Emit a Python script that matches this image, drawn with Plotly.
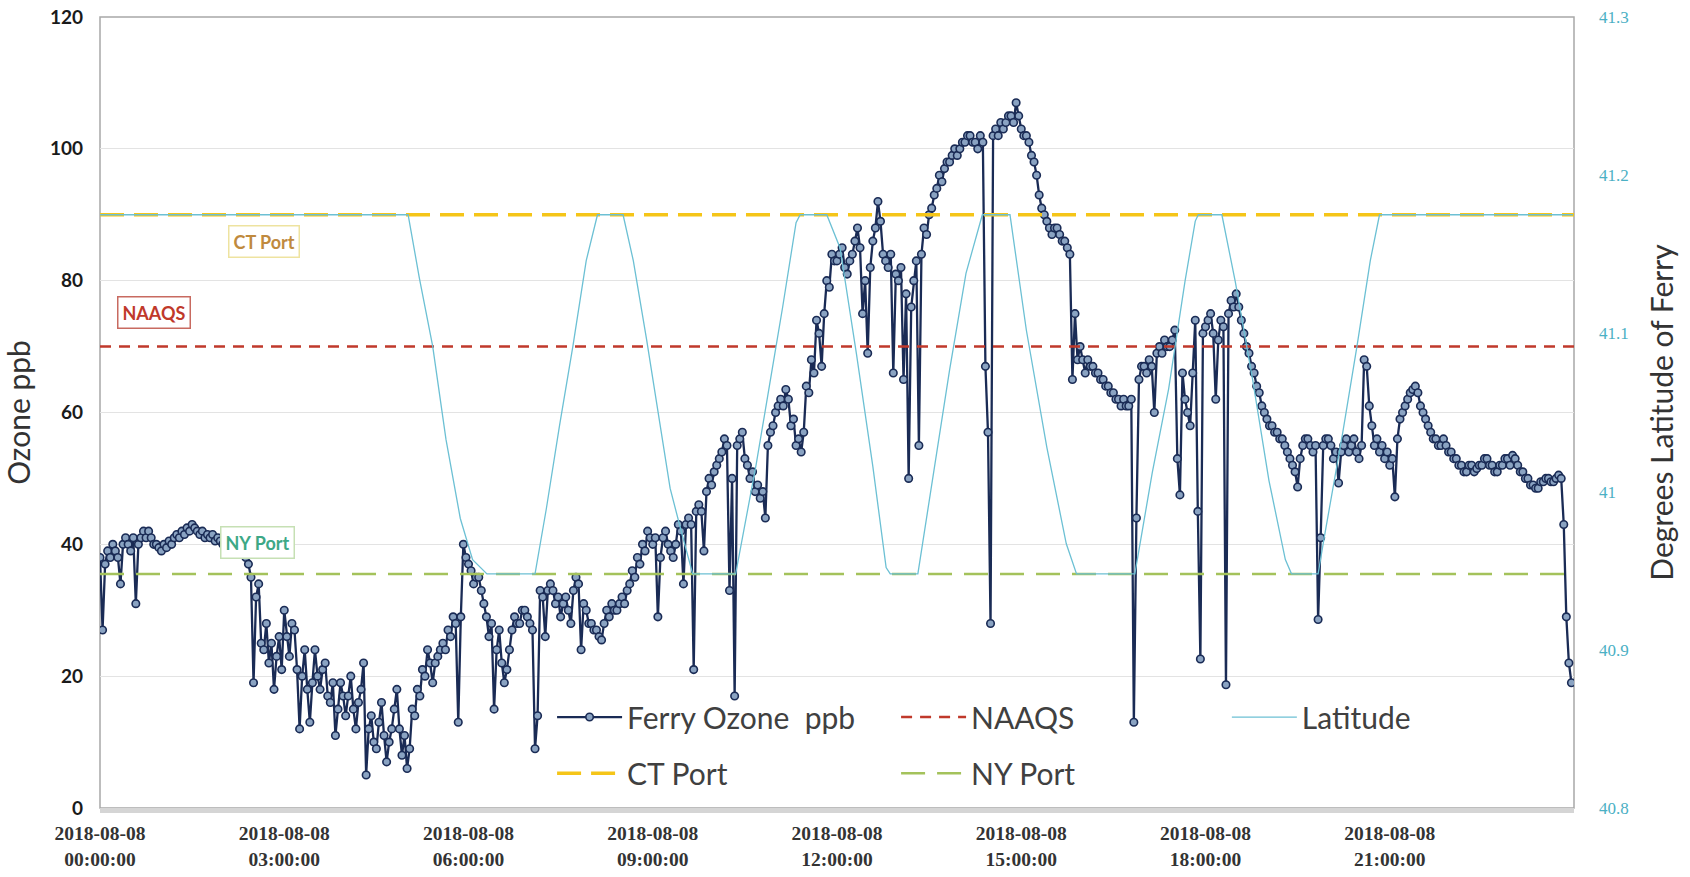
import pandas as pd
import plotly.graph_objects as go

# ---------------- data (one value every 2.5 minutes, 24 per hour) ----------------
day = "2018-08-08"
ozone_h00 = [38, 27, 37, 39, 38, 40, 39, 38, 34, 40, 41, 40, 39, 41, 31, 40, 41, 42, 41, 42, 41, 40, 40, 39.5]
ozone_h01 = [39, 40, 39.5, 40.5, 40, 41, 41.5, 41, 42, 41.5, 42.5, 42, 43, 42.5, 42, 41.5, 42, 41, 41.5, 41, 41.5, 40.5, 41, 40.5]
ozone_h02 = [40, 40.5, 40, 39.5, 40, 39, 39.5, 39, 38.5, 38, 37, 35, 19, 32, 34, 25, 24, 28, 22, 25, 18, 23, 26, 21]
ozone_h03 = [30, 26, 23, 28, 27, 21, 12, 20, 24, 18, 13, 19, 24, 20, 18, 21, 22, 17, 16, 19, 11, 15, 19, 17]
ozone_h04 = [14, 17, 20, 15, 12, 16, 18, 22, 5, 12, 14, 10, 9, 13, 16, 11, 7, 10, 12, 15, 18, 12, 8, 11]
ozone_h05 = [6, 9, 15, 14, 18, 17, 21, 20, 24, 22, 19, 22, 23, 24, 25, 24, 27, 26, 29, 28, 13, 29, 40, 38]
ozone_h06 = [37, 36, 34, 35, 35, 33, 31, 29, 26, 28, 15, 24, 27, 22, 19, 21, 24, 27, 29, 28, 28, 30, 30, 29]
ozone_h07 = [28, 27, 9, 14, 33, 32, 26, 33, 34, 33, 31, 32, 29, 31, 32, 30, 28, 33, 35, 34, 24, 31, 30, 28]
ozone_h08 = [28, 27, 27, 26, 25.5, 28, 30, 29, 31, 30, 30, 31, 32, 31, 33, 34, 36, 35, 38, 37, 40, 39, 42, 41]
ozone_h09 = [40, 41, 29, 38, 41, 42, 40, 39, 38, 40, 43, 42, 34, 43, 44, 43, 21, 45, 46, 45, 39, 48, 50, 49]
ozone_h10 = [51, 52, 53, 54, 56, 55, 33, 50, 17, 55, 56, 57, 53, 52, 50, 51, 48, 49, 47, 48, 44, 55, 57, 58]
ozone_h11 = [60, 61, 62, 61, 63.5, 62, 58, 59, 55, 56, 54, 57, 64, 63, 68, 66, 74, 72, 67, 75, 80, 79, 84, 83]
ozone_h12 = [83, 84, 85, 82, 81, 83, 84, 86, 88, 85, 75, 80, 69, 82, 86, 88, 92, 89, 84, 83, 82, 84, 66, 81]
ozone_h13 = [80, 82, 65, 78, 50, 76, 80, 83, 55, 84, 88, 87, 90, 91, 93, 94, 96, 95, 97, 98, 98, 99, 100, 99]
ozone_h14 = [100, 101, 101, 102, 102, 101, 101, 100, 102, 101, 67, 57, 28, 102, 103, 102, 104, 103, 104, 105, 105, 104, 107, 105]
ozone_h15 = [103, 102, 102, 101, 99, 98, 96, 93, 91, 90, 89, 88, 87, 88, 88, 87, 86, 86, 85, 84, 65, 75, 68, 70]
ozone_h16 = [68, 66, 68, 67, 67, 66, 66, 65, 65, 64, 64, 63, 63, 62, 62, 61, 62, 61, 61, 62, 13, 44, 65, 67]
ozone_h17 = [67, 66, 68, 67, 60, 69, 70, 69, 71, 70, 70, 71, 72.5, 53, 47.5, 66, 62, 60, 58, 66, 74, 45, 22.6, 72]
ozone_h18 = [73, 74, 75, 72, 62, 71, 74, 73, 18.7, 75, 77, 76, 78, 76, 74, 72, 70, 69, 67, 66, 64, 63, 61, 60]
ozone_h19 = [59, 58, 58, 57, 57, 56, 56, 55, 54, 53, 52, 51, 48.7, 53, 55, 56, 56, 55, 54, 55, 28.6, 41, 55, 56]
ozone_h20 = [56, 55, 53, 54, 49.3, 54, 55, 56, 54, 55, 56, 54, 53, 55, 68, 67, 61, 58, 55, 56, 54, 55, 53, 54]
ozone_h21 = [52, 53, 47.2, 56, 59, 60, 61, 62, 63, 63.5, 64, 63, 61, 60, 59, 58, 57, 56, 56, 55, 55, 56, 55, 54]
ozone_h22 = [54, 53, 53, 52, 52, 51, 51, 52, 52, 51, 51.5, 52, 52, 53, 53, 52, 52, 51, 51, 52, 52, 53, 53, 52]
ozone_h23 = [53.5, 53, 52, 51, 51, 50, 50, 49, 49, 48.5, 48.5, 49.5, 49.5, 50, 50, 49.5, 49.5, 50, 50.5, 50, 43, 29, 22, 19]

ozone_ppb = (ozone_h00 + ozone_h01 + ozone_h02 + ozone_h03 + ozone_h04 + ozone_h05 +
             ozone_h06 + ozone_h07 + ozone_h08 + ozone_h09 + ozone_h10 + ozone_h11 +
             ozone_h12 + ozone_h13 + ozone_h14 + ozone_h15 + ozone_h16 + ozone_h17 +
             ozone_h18 + ozone_h19 + ozone_h20 + ozone_h21 + ozone_h22 + ozone_h23)
ozone_times = pd.date_range(day + " 00:00", periods=len(ozone_ppb), freq="150s")

lat_clock = [
    "00:00", "05:01", "05:12", "05:25", "05:38", "05:52", "06:04", "06:18",
    "07:05", "07:16", "07:29", "07:42", "07:55", "08:06", "08:31", "08:41",
    "08:54", "09:07", "09:17", "09:27", "09:39", "10:21", "10:41", "10:54",
    "11:07", "11:20", "11:24", "11:50", "12:03", "12:19", "12:35", "12:48",
    "12:52", "13:19", "13:34", "13:50", "14:06", "14:22", "14:49", "15:05",
    "15:25", "15:44", "15:54", "16:51", "17:08", "17:24", "17:40", "17:50",
    "17:53", "18:16", "18:29", "18:46", "19:02", "19:18", "19:24", "19:50",
    "19:56", "20:14", "20:28", "20:41", "20:50", "23:59",
]
latitude = [
    41.175, 41.175, 41.135, 41.092, 41.033, 40.983, 40.957, 40.948,
    40.948, 40.989, 41.042, 41.092, 41.146, 41.175, 41.175, 41.146,
    41.096, 41.042, 41.002, 40.977, 40.948, 40.948, 41.017, 41.067,
    41.117, 41.170, 41.175, 41.175, 41.154, 41.087, 41.016, 40.952,
    40.948, 40.948, 41.010, 41.077, 41.138, 41.175, 41.175, 41.102,
    41.028, 40.967, 40.948, 40.948, 41.012, 41.065, 41.133, 41.171,
    41.175, 41.175, 41.133, 41.071, 41.007, 40.957, 40.948, 40.948,
    40.971, 41.037, 41.092, 41.146, 41.175, 41.175,
]
lat_times = pd.to_datetime([day + " " + t for t in lat_clock])

naaqs_ppb = 70
ct_port_ppb = 90
ny_port_ppb = 35.5
span_times = [day + " 00:00", "2018-08-09 00:00"]

tick_hours = ["00:00:00", "03:00:00", "06:00:00", "09:00:00",
              "12:00:00", "15:00:00", "18:00:00", "21:00:00"]
tick_vals = [day + " " + h for h in tick_hours]
tick_text = [day + "<br>" + h for h in tick_hours]

label_ct = ("CT Port", day + " 02:40", 86.0)
label_naaqs = ("NAAQS", day + " 00:53", 75.2)
label_ny = ("NY Port", day + " 02:34", 40.3)

# ---------------- figure ----------------
fig = go.Figure()

fig.add_trace(go.Scatter(
    x=ozone_times, y=ozone_ppb, name="Ferry Ozone  ppb", mode="lines+markers",
    line=dict(color="#1A2B55", width=2.3),
    marker=dict(size=7.5, color="#8AA3C2", line=dict(color="#1A2B55", width=1.6)),
    legend="legend",
))
fig.add_trace(go.Scatter(
    x=span_times, y=[naaqs_ppb, naaqs_ppb], name="NAAQS", mode="lines",
    line=dict(color="#C0392B", width=2.5, dash="11px,8px"), legend="legend",
))
fig.add_trace(go.Scatter(
    x=span_times, y=[ct_port_ppb, ct_port_ppb], name="CT Port", mode="lines",
    line=dict(color="#F5C518", width=3.5, dash="24px,10px"), legend="legend2",
))
fig.add_trace(go.Scatter(
    x=span_times, y=[ny_port_ppb, ny_port_ppb], name="NY Port", mode="lines",
    line=dict(color="#A4C25B", width=2.5, dash="24px,12px"), legend="legend2",
))
fig.add_trace(go.Scatter(
    x=lat_times, y=latitude, name="Latitude", mode="lines", yaxis="y2",
    line=dict(color="#6CC0D4", width=1.3), legend="legend3",
))

for txt, xx, yy, fc, bc in [
    (label_ct[0], label_ct[1], label_ct[2], "#C08A3E", "#EEE3A0"),
    (label_naaqs[0], label_naaqs[1], label_naaqs[2], "#C0392B", "#C86A60"),
    (label_ny[0], label_ny[1], label_ny[2], "#3DA886", "#C6E0B4"),
]:
    fig.add_annotation(x=xx, y=yy, xref="x", yref="y", text=txt, showarrow=False,
                       font=dict(family="Lato", size=18, color=fc, weight="bold"),
                       bgcolor="white", bordercolor=bc, borderwidth=1.5, borderpad=4)

fig.add_shape(type="rect", xref="paper", yref="paper", x0=0, x1=1, y0=0, y1=1,
              line=dict(color="#A8A8A8", width=1.5), layer="below")

legend_font = dict(family="Lato", size=30, color="#404040")
common_leg = dict(orientation="h", xanchor="left", yanchor="middle",
                  entrywidth=264, entrywidthmode="pixels", itemwidth=65,
                  font=legend_font, bgcolor="rgba(0,0,0,0)")

fig.update_layout(
    width=1690, height=877,
    margin=dict(l=100, r=116, t=17, b=69),
    paper_bgcolor="white", plot_bgcolor="white",
    showlegend=True,
    xaxis=dict(
        type="date", range=[span_times[0], span_times[1]],
        tickmode="array", tickvals=tick_vals, ticktext=tick_text,
        tickfont=dict(family="Liberation Serif", size=19.5, color="#333333", weight="bold"),
        showgrid=False, zeroline=False, ticks="", ticklabelstandoff=4,
        showline=True, linecolor="#D5D5D5", linewidth=5, automargin=False,
    ),
    yaxis=dict(
        range=[0, 120], dtick=20,
        tickfont=dict(family="Lato", size=19, color="#1A1A1A", weight="bold"),
        showgrid=True, gridcolor="#E3E3E3", gridwidth=1.2, zeroline=False,
        title=dict(text="Ozone ppb", font=dict(family="Lato", size=30, color="#333333"), standoff=10),
        showline=False, ticks="", ticklabelstandoff=16, automargin=False,
    ),
    yaxis2=dict(
        range=[40.8, 41.3], dtick=0.1, overlaying="y", side="right",
        tickfont=dict(family="Liberation Serif", size=17, color="#4BB0C4"),
        showgrid=False, zeroline=False, ticks="", ticklabelstandoff=24, automargin=False,
        title=dict(text="Degrees Latitude of Ferry", font=dict(family="Lato", size=30, color="#333333"), standoff=24),
    ),
    legend=dict(common_leg, x=0.3067, y=0.115),
    legend3=dict(common_leg, x=0.7645, y=0.115),
    legend2=dict(common_leg, x=0.3067, y=0.044),
)

fig.write_html("out.html", config={"displayModeBar": False},
               post_script="document.body.style.margin='0';document.body.style.overflow='hidden';")
